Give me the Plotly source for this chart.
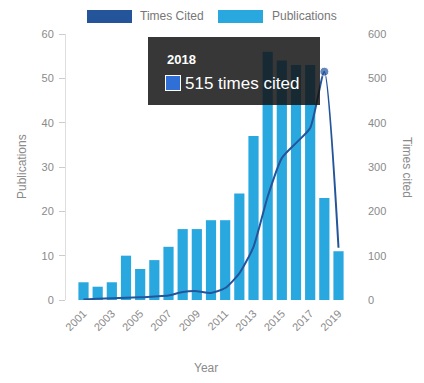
import plotly.graph_objects as go

years = [str(y) for y in range(2001, 2020)]
publications = [4, 3, 4, 10, 7, 9, 12, 16, 16, 18, 18, 24, 37, 56, 54, 53, 53, 23, 11]
times_cited = [1, 3, 4, 5, 6, 8, 10, 18, 20, 16, 27, 60, 120, 233, 320, 354, 388, 515, 118]
tick_years = years[::2]
hover_index = 17  # 2018

BAR_COLOR = "#29a8e0"
LINE_COLOR = "#24559a"
GRAY = "#8a8a8a"
FONT = "Liberation Sans, Arial, sans-serif"

W, H = 424, 383
L, R, T, B = 66, 356, 34, 300

def px(x):
    return (x - L) / (R - L)

def py(y):
    return (B - y) / (B - T)

fig = go.Figure()
fig.add_trace(go.Bar(
    x=years, y=publications, name="Publications",
    marker=dict(color=BAR_COLOR, line=dict(width=0)),
    yaxis="y", showlegend=False,
))
marker_sizes = [0] * len(years)
marker_sizes[hover_index] = 9
fig.add_trace(go.Scatter(
    x=years, y=times_cited, name="Times Cited", mode="lines+markers",
    line=dict(color=LINE_COLOR, width=2, shape="spline", smoothing=0.6),
    marker=dict(size=marker_sizes, color=LINE_COLOR),
    yaxis="y2", showlegend=False,
))

shapes = []
annotations = []

# legend (drawn manually)
shapes.append(dict(type="rect", xref="paper", yref="paper",
                   x0=px(87), x1=px(132), y0=py(23), y1=py(10),
                   fillcolor=LINE_COLOR, line=dict(width=0)))
annotations.append(dict(xref="paper", yref="paper", x=px(138), y=py(16.5),
                        text="Times Cited", showarrow=False, xanchor="left",
                        yanchor="middle", font=dict(size=12, color="#777", family=FONT)))
shapes.append(dict(type="rect", xref="paper", yref="paper",
                   x0=px(218), x1=px(263), y0=py(23), y1=py(10),
                   fillcolor=BAR_COLOR, line=dict(width=0)))
annotations.append(dict(xref="paper", yref="paper", x=px(270), y=py(16.5),
                        text="Publications", showarrow=False, xanchor="left",
                        yanchor="middle", font=dict(size=12, color="#777", family=FONT)))

# tooltip background: shape drawn above traces
shapes.append(dict(type="rect", xref="paper", yref="paper", layer="above",
                   x0=px(148), x1=px(320), y0=py(105), y1=py(37),
                   fillcolor="rgba(20,20,20,0.85)",
                   line=dict(width=0)))
annotations.append(dict(xref="paper", yref="paper", x=px(165), y=py(59),
                        text="<b>%s</b>" % years[hover_index], showarrow=False,
                        xanchor="left", yanchor="middle",
                        font=dict(size=13, color="white", family=FONT)))
annotations.append(dict(xref="paper", yref="paper", x=px(165), y=py(75),
                        xanchor="left", yanchor="top", text=" ", showarrow=False,
                        width=14, height=14, borderpad=0, borderwidth=1,
                        bordercolor="white", bgcolor="#2f6fd6"))
annotations.append(dict(xref="paper", yref="paper", x=px(183), y=py(83),
                        text="%d times cited" % times_cited[hover_index], showarrow=False,
                        xanchor="left", yanchor="middle",
                        font=dict(size=17, color="white", family=FONT)))

# axis titles
annotations.append(dict(xref="paper", yref="paper", x=px(22), y=py(167),
                        xanchor="center", yanchor="middle",
                        text="Publications", showarrow=False, textangle=-90,
                        font=dict(size=12, color=GRAY, family=FONT)))
annotations.append(dict(xref="paper", yref="paper", x=px(407), y=py(167),
                        xanchor="center", yanchor="middle",
                        text="Times cited", showarrow=False, textangle=90,
                        font=dict(size=12, color=GRAY, family=FONT)))
annotations.append(dict(xref="paper", yref="paper", x=px(206), y=py(368),
                        xanchor="center", yanchor="middle",
                        text="Year", showarrow=False,
                        font=dict(size=12, color=GRAY, family=FONT)))

fig.update_layout(
    width=W, height=H,
    margin=dict(l=L, r=W - R, t=T, b=H - B),
    paper_bgcolor="white", plot_bgcolor="white",
    bargap=0.28,
    font=dict(family=FONT, size=11, color=GRAY),
    xaxis=dict(type="category", tickvals=tick_years, ticktext=tick_years,
               tickangle=-45, showgrid=False, showline=False, zeroline=False,
               ticks="", ticklabelstandoff=4, tickfont=dict(size=11, color=GRAY)),
    yaxis=dict(range=[0, 60], dtick=10, showgrid=False, zeroline=False,
               showline=True, linecolor="#dddddd", linewidth=1,
               ticks="outside", ticklen=6, tickcolor="#cccccc",
               ticklabelstandoff=3, tickfont=dict(size=11, color=GRAY)),
    yaxis2=dict(range=[0, 600], dtick=100, overlaying="y", side="right",
                showgrid=False, zeroline=False, showline=False, ticks="",
                ticklabelstandoff=11, tickfont=dict(size=11, color=GRAY)),
    shapes=shapes, annotations=annotations,
    hovermode=False,
)

fig.write_html("out.html", config={"displayModeBar": False},
               post_script="document.body.style.margin='0px';")
